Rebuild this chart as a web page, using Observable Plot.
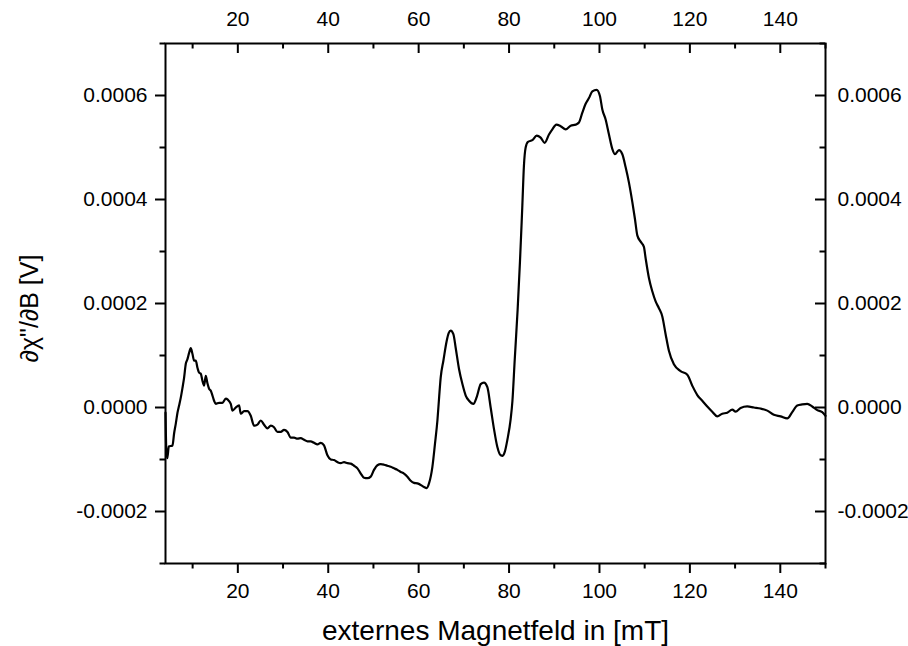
<!DOCTYPE html>
<html>
<head>
<meta charset="utf-8">
<script src="https://cdn.jsdelivr.net/npm/d3@7"></script>
<script src="https://cdn.jsdelivr.net/npm/@observablehq/plot@0.6"></script>
<style>
  html, body { margin: 0; padding: 0; background: #fff; }
  #chart { width: 908px; height: 646px; }
</style>
</head>
<body>
<div id="chart"></div>
<script>
// externes Magnetfeld [mT]
const field = [
  4.0, 4.18, 4.40, 4.73, 5.55, 5.90, 6.28, 6.65, 7.01, 7.38, 7.76, 8.11, 8.49, 8.86, 9.22, 9.59, 9.97,
  10.32, 10.70, 11.08, 11.43, 11.81, 12.18, 12.54, 12.91, 13.29, 13.64, 14.02, 14.39, 14.75, 15.12,
  15.85, 16.60, 17.33, 17.78, 18.44, 18.82, 19.55, 20.28, 20.65, 21.38, 22.13, 22.86, 23.59, 24.34,
  25.07, 25.80, 26.55, 27.29, 28.01, 28.77, 29.50, 30.22, 30.98, 31.71, 32.44, 33.19, 33.92, 34.65,
  35.40, 36.13, 36.86, 37.61, 38.34, 39.07, 39.82, 40.55, 41.28, 42.03, 42.76, 43.49, 44.24, 44.98,
  45.71, 46.46, 47.19, 47.91, 48.67, 49.40, 50.12, 50.88, 51.61, 52.34, 53.09, 53.82, 54.55, 55.30,
  56.03, 56.76, 57.51, 58.24, 58.97, 59.72, 60.46, 61.18, 61.78, 62.29, 63.04, 63.61, 64.15, 64.54,
  64.88, 65.47, 66.20, 66.64, 67.09, 67.68, 68.19, 68.93, 69.68, 70.41, 71.14, 72.11, 72.84, 73.73,
  74.45, 75.20, 75.93, 76.66, 77.41, 78.15, 78.59, 79.03, 79.63, 80.36, 80.74, 81.24, 81.90, 82.41,
  82.79, 82.94, 83.29, 83.67, 84.18, 85.15, 86.11, 86.99, 87.87, 88.83, 89.58, 90.46, 91.41, 92.52,
  93.63, 94.73, 95.46, 96.21, 96.94, 97.67, 98.42, 99.37, 100.10, 100.63, 101.36, 102.10, 102.85,
  103.42, 104.31, 105.06, 105.79, 106.51, 107.27, 107.84, 108.37, 109.10, 109.83, 110.21, 110.94,
  111.70, 112.42, 113.15, 113.90, 114.63, 115.36, 116.46, 117.94, 119.43, 120.53, 121.64, 122.74,
  123.85, 124.95, 126.06, 127.17, 128.27, 129.38, 130.11, 131.22, 132.69, 134.17, 135.64, 137.12,
  138.58, 140.06, 141.54, 142.64, 143.75, 144.85, 145.96, 147.07, 148.17, 149.28, 150.0
];
// dChi''/dB [V]
const signal = [
  -0.10e-4, -0.82e-4, -0.975e-4, -0.75e-4, -0.73e-4, -0.50e-4, -0.31e-4, -0.10e-4, 0.04e-4, 0.19e-4,
  0.38e-4, 0.57e-4, 0.84e-4, 0.93e-4, 1.05e-4, 1.14e-4, 1.03e-4,
  0.90e-4, 0.90e-4, 0.76e-4, 0.67e-4, 0.65e-4, 0.51e-4, 0.42e-4, 0.61e-4, 0.46e-4, 0.36e-4, 0.32e-4,
  0.23e-4, 0.13e-4, 0.07e-4,
  0.09e-4, 0.09e-4, 0.17e-4, 0.15e-4, 0.07e-4, -0.06e-4, 0.00e-4, 0.04e-4, -0.12e-4, -0.07e-4,
  -0.07e-4, -0.16e-4, -0.35e-4, -0.33e-4,
  -0.25e-4, -0.33e-4, -0.40e-4, -0.35e-4, -0.38e-4, -0.47e-4, -0.47e-4, -0.43e-4, -0.47e-4, -0.58e-4,
  -0.58e-4, -0.60e-4, -0.59e-4, -0.62e-4,
  -0.65e-4, -0.65e-4, -0.68e-4, -0.71e-4, -0.68e-4, -0.73e-4, -0.92e-4, -1.00e-4, -1.01e-4, -1.05e-4,
  -1.07e-4, -1.05e-4, -1.07e-4, -1.08e-4,
  -1.12e-4, -1.17e-4, -1.27e-4, -1.35e-4, -1.36e-4, -1.33e-4, -1.20e-4, -1.11e-4, -1.09e-4, -1.10e-4,
  -1.12e-4, -1.14e-4, -1.17e-4, -1.20e-4,
  -1.24e-4, -1.27e-4, -1.33e-4, -1.41e-4, -1.45e-4, -1.46e-4, -1.49e-4, -1.53e-4, -1.55e-4, -1.46e-4,
  -1.14e-4, -0.70e-4, -0.25e-4, 0.21e-4,
  0.58e-4, 0.90e-4, 1.28e-4, 1.43e-4, 1.48e-4, 1.41e-4, 1.15e-4, 0.74e-4, 0.45e-4, 0.23e-4, 0.13e-4,
  0.07e-4, 0.20e-4, 0.45e-4,
  0.48e-4, 0.39e-4, 0.00e-4, -0.41e-4, -0.76e-4, -0.92e-4, -0.93e-4, -0.86e-4, -0.62e-4, -0.22e-4,
  0.12e-4, 0.90e-4, 1.89e-4, 2.80e-4,
  3.57e-4, 3.89e-4, 4.65e-4, 5.00e-4, 5.11e-4, 5.14e-4, 5.23e-4, 5.19e-4, 5.09e-4, 5.25e-4, 5.35e-4,
  5.44e-4, 5.41e-4, 5.35e-4,
  5.42e-4, 5.44e-4, 5.48e-4, 5.67e-4, 5.84e-4, 5.95e-4, 6.08e-4, 6.11e-4, 5.99e-4, 5.73e-4, 5.54e-4,
  5.25e-4, 4.97e-4,
  4.87e-4, 4.95e-4, 4.87e-4, 4.62e-4, 4.33e-4, 3.95e-4, 3.63e-4, 3.31e-4, 3.19e-4, 3.09e-4, 2.87e-4,
  2.49e-4,
  2.23e-4, 2.04e-4, 1.91e-4, 1.75e-4, 1.41e-4, 1.09e-4, 0.83e-4, 0.70e-4, 0.63e-4, 0.42e-4, 0.24e-4,
  0.13e-4,
  0.02e-4, -0.08e-4, -0.17e-4, -0.12e-4, -0.10e-4, -0.04e-4, -0.08e-4, -0.01e-4, 0.02e-4, 0.00e-4,
  -0.02e-4, -0.06e-4,
  -0.14e-4, -0.17e-4, -0.21e-4, -0.09e-4, 0.04e-4, 0.06e-4, 0.07e-4, 0.02e-4, -0.05e-4, -0.09e-4,
  -0.16e-4
];

const xMajor = [20, 40, 60, 80, 100, 120, 140];
const xMinor = [10, 30, 50, 70, 90, 110, 130, 150];
const yMajor = [-0.0002, 0.0000, 0.0002, 0.0004, 0.0006];
const yMinor = [-0.0003, -0.0001, 0.0001, 0.0003, 0.0005, 0.0007];
const xTitle = "externes Magnetfeld in [mT]";
const yTitle = "\u2202\u03C7\"/\u2202B [V]";

const data = field.map((f, i) => ({field: f, signal: signal[i]}));

const W = 908, H = 646;
const mL = 165, mR = 83, mT = 43, mB = 83;
const innerW = W - mL - mR, innerH = H - mT - mB;
const majorLen = 10, minorLen = 5.5;
const font = "'Liberation Sans', Arial, Helvetica, sans-serif";
const tickFont = 21;

const chart = Plot.plot({
  width: W,
  height: H,
  marginLeft: mL,
  marginRight: mR,
  marginTop: mT,
  marginBottom: mB,
  style: {fontFamily: font, background: "#fff", color: "#000"},
  x: {domain: [4, 150]},
  y: {domain: [-0.0003, 0.0007]},
  marks: [
    // bottom axis: outward ticks + labels
    Plot.axisX({anchor: "bottom", ticks: xMajor, tickSize: majorLen, tickPadding: 10,
      tickFormat: d => String(d), fontSize: tickFont, strokeWidth: 2, label: null}),
    Plot.axisX({anchor: "bottom", ticks: xMinor, tickSize: minorLen, tickFormat: () => "",
      strokeWidth: 2, label: null}),
    // top axis: labels + inward ticks
    Plot.axisX({anchor: "top", ticks: xMajor, tickSize: 0, tickPadding: 18,
      tickFormat: d => String(d), fontSize: tickFont, label: null}),
    Plot.ruleX(xMajor, {x: d => d, insetBottom: innerH - majorLen, stroke: "#000", strokeWidth: 2}),
    Plot.ruleX(xMinor, {x: d => d, insetBottom: innerH - minorLen, stroke: "#000", strokeWidth: 2}),
    // left axis: outward ticks + labels
    Plot.axisY({anchor: "left", ticks: yMajor, tickSize: majorLen, tickPadding: 8,
      tickFormat: d => d.toFixed(4), fontSize: tickFont, strokeWidth: 2, label: null}),
    Plot.axisY({anchor: "left", ticks: yMinor, tickSize: minorLen, tickFormat: () => "",
      strokeWidth: 2, label: null}),
    // right axis: labels + inward ticks
    Plot.axisY({anchor: "right", ticks: yMajor, tickSize: 0, tickPadding: 12,
      tickFormat: d => d.toFixed(4), fontSize: tickFont, label: null}),
    Plot.ruleY(yMajor, {y: d => d, insetLeft: innerW - majorLen, stroke: "#000", strokeWidth: 2}),
    Plot.ruleY(yMinor, {y: d => d, insetLeft: innerW - minorLen, stroke: "#000", strokeWidth: 2}),
    // frame
    Plot.frame({stroke: "#000", strokeWidth: 2}),
    // curve
    Plot.line(data, {x: "field", y: "signal", stroke: "#000", strokeWidth: 2.2, curve: "monotone-x"}),
    // titles
    Plot.text([xTitle], {text: d => d, frameAnchor: "bottom", textAnchor: "middle", lineAnchor: "bottom",
      dy: 76, fontSize: 28, fill: "#000"}),
    Plot.text([yTitle], {text: d => d, frameAnchor: "left", textAnchor: "middle", rotate: -90,
      dx: -136, dy: 5, lineAnchor: "middle", fontSize: 25, fill: "#000"})
  ]
});
document.getElementById("chart").appendChild(chart);
</script>
</body>
</html>
